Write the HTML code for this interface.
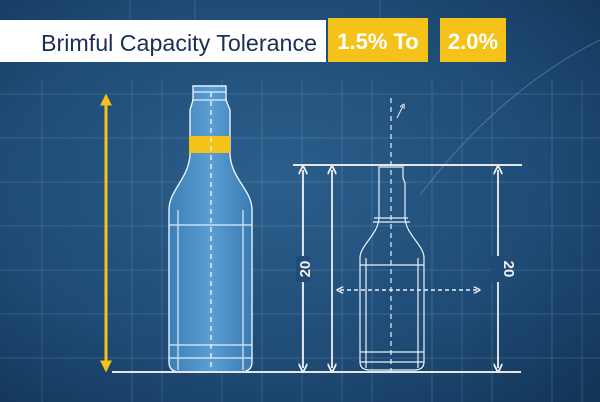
<!DOCTYPE html>
<html><head><meta charset="utf-8"><style>
html,body{margin:0;padding:0;width:600px;height:402px;overflow:hidden;background:#1d4670}
svg{display:block}
</style></head><body>
<svg width="600" height="402" viewBox="0 0 600 402" xmlns="http://www.w3.org/2000/svg" font-family="Liberation Sans, sans-serif">
<defs>
<radialGradient id="bg" cx="0.45" cy="0.45" r="0.75">
<stop offset="0" stop-color="#2c5f8c"/><stop offset="0.6" stop-color="#1f4b76"/><stop offset="1" stop-color="#133558"/>
</radialGradient>
<linearGradient id="glass" x1="0" x2="1">
<stop offset="0" stop-color="#3d7fb8"/><stop offset="0.5" stop-color="#5a9ed2"/><stop offset="1" stop-color="#3b7bb3"/>
</linearGradient>
<marker id="aw" viewBox="0 0 10 10" refX="5" refY="5" markerWidth="5" markerHeight="5" orient="auto-start-reverse"><path d="M0,0 L10,5 L0,10" fill="none" stroke="#f2f2f2" stroke-width="2"/></marker>
<marker id="ay" viewBox="0 0 10 10" refX="8" refY="5" markerWidth="4" markerHeight="4" orient="auto-start-reverse"><path d="M0,0 L10,5 L0,10 Z" fill="#f5c21a"/></marker>
</defs>
<rect width="600" height="402" fill="url(#bg)"/>
<g stroke="#7fa6c9" stroke-opacity="0.28" stroke-width="1">
<path d="M0,94H600M0,138H600M0,182H600M0,226H600M0,270H600M0,314H600M0,358H600"/>
<path d="M42,80V402M132,80V402M162,80V402M222,80V402M262,80V402M302,80V402M342,80V402M372,80V402M432,80V402M462,80V402M492,80V402M552,80V402M582,80V402"/>
<path d="M130,0V20M195,0V20M380,0V20" />
<path d="M600,40 Q500,90 420,195" fill="none" stroke-opacity="0.45"/>
</g>
<rect x="0" y="20" width="326" height="42" fill="#ffffff"/>
<text x="41" y="51" font-size="23" fill="#1b2e55" textLength="276" lengthAdjust="spacingAndGlyphs">Brimful Capacity Tolerance</text>
<rect x="328" y="18" width="100" height="44" fill="#f5c21a"/>
<text x="378" y="49" font-size="22" fill="#ffffff" text-anchor="middle" font-weight="bold">1.5% To</text>
<rect x="440" y="18" width="66" height="44" fill="#f5c21a"/>
<text x="473" y="49" font-size="22" fill="#ffffff" text-anchor="middle" font-weight="bold">2.0%</text>
<line x1="106" y1="96" x2="106" y2="370" stroke="#f5c21a" stroke-width="3" marker-start="url(#ay)" marker-end="url(#ay)"/>
<g stroke="#e8f2fb" stroke-width="1.4">
<path d="M193,86 H226 V100 L230,110 V155 C232,180 252,190 252,210 V362 Q252,372 240,372 H180 Q169,372 169,362 V210 C169,190 188,180 190,155 V110 L193,100 Z" fill="url(#glass)"/>
<rect x="189" y="136" width="41" height="17" fill="#f5c21a" stroke="none"/>
<path d="M169,225H252M169,345H252M169,358H252M193,92H226M192,100H227M178,210V370M243,210V370" fill="none" stroke-opacity="0.8"/>
</g>
<line x1="211" y1="92" x2="211" y2="370" stroke="#e8f2fb" stroke-width="1.4" stroke-dasharray="5,4"/>
<line x1="293" y1="165" x2="522" y2="165" stroke="#e6e6e6" stroke-width="2"/>
<line x1="112" y1="372" x2="521" y2="372" stroke="#e6e6e6" stroke-width="2"/>
<g stroke="#e8f2fb" stroke-width="1.2" fill="none">
<path d="M379,167 H403 V178 L405,183 V218 C406,235 424,245 424,258 V362 Q424,370 414,370 H370 Q360,370 360,362 V258 C360,245 378,235 379,218 V183 L379,178 Z"/>
<path d="M374,218H408M373,222H410M360,265H424M360,352H424M360,362H424M366,258V368M418,258V368"/>
</g>
<line x1="391" y1="98" x2="391" y2="372" stroke="#e8f2fb" stroke-width="1.2" stroke-dasharray="5,4"/>
<line x1="397" y1="118" x2="403" y2="106" stroke="#e8f2fb" stroke-width="1" marker-end="url(#aw)"/>
<line x1="340" y1="290" x2="477" y2="290" stroke="#e8f2fb" stroke-width="1.4" stroke-dasharray="4,3" marker-start="url(#aw)" marker-end="url(#aw)"/>
<g stroke="#f0f0f0" stroke-width="1.8">
<line x1="303" y1="170" x2="303" y2="368" marker-start="url(#aw)" marker-end="url(#aw)"/>
<line x1="332" y1="170" x2="332" y2="368" marker-start="url(#aw)" marker-end="url(#aw)"/>
<line x1="498" y1="170" x2="498" y2="368" marker-start="url(#aw)" marker-end="url(#aw)"/>
</g>
<rect x="296" y="256" width="14" height="26" fill="#1f4b76"/>
<rect x="491" y="256" width="14" height="26" fill="#1f4b76"/>
<text transform="translate(310,269) rotate(-90)" font-size="15" font-weight="bold" fill="#f0f0f0" text-anchor="middle">20</text>
<text transform="translate(504,269) rotate(90)" font-size="15" font-weight="bold" fill="#f0f0f0" text-anchor="middle">20</text>
</svg>
</body></html>
